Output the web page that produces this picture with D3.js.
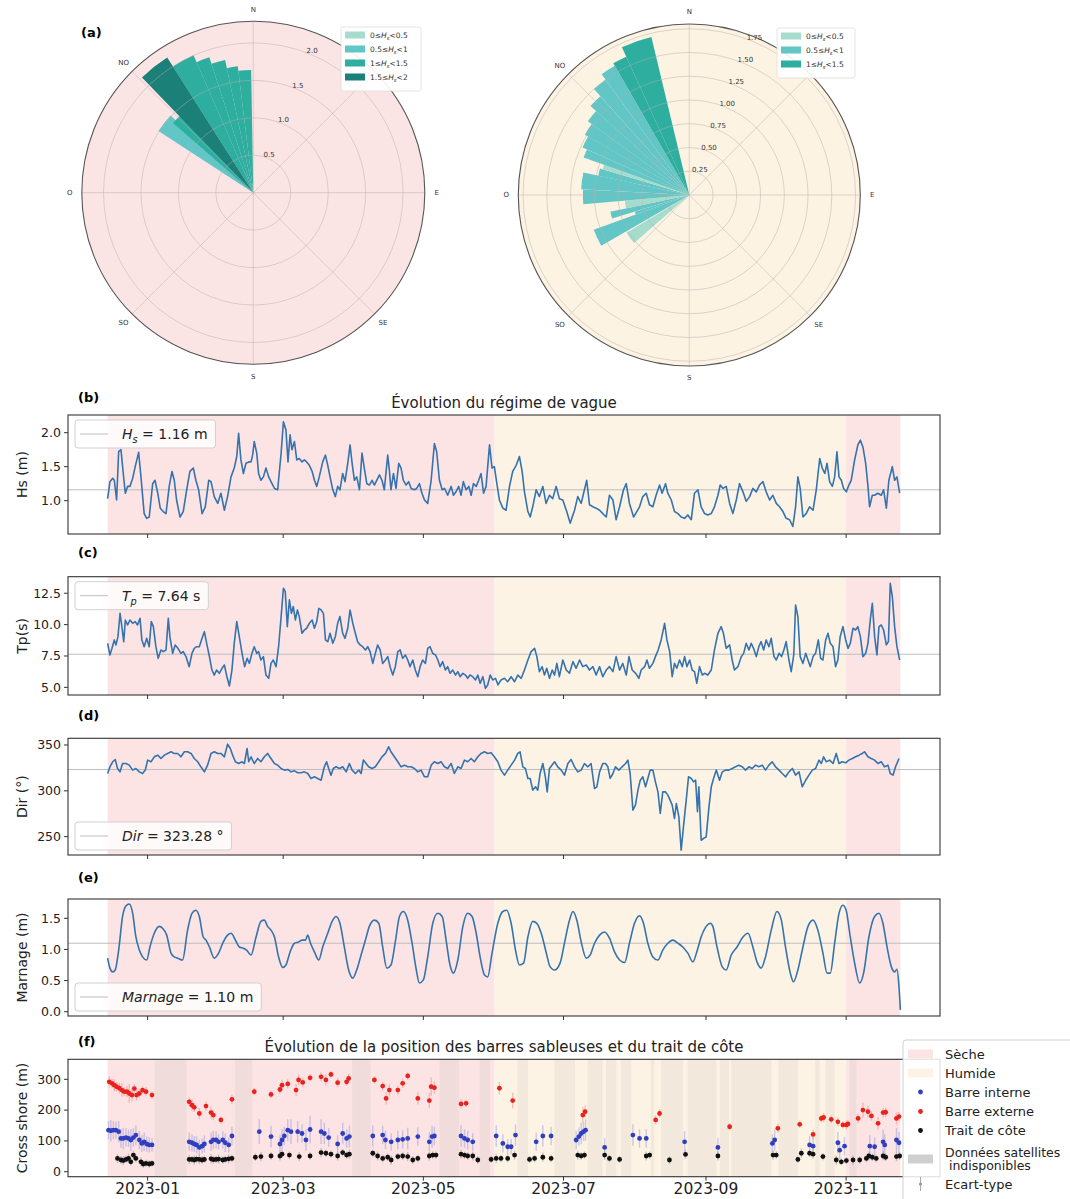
<!DOCTYPE html>
<html><head><meta charset="utf-8">
<script src="https://cdn.jsdelivr.net/npm/d3@7/dist/d3.min.js"></script>
<style>body{margin:0;background:#fff;} svg text{font-family:"DejaVu Sans",sans-serif;}</style>
</head><body>
<svg id="c" width="1070" height="1199"></svg>
<script>
// ================= DATA =================
// Wind-rose wedges: [startDeg, endDeg, value, classIndex]
const hsClasses = [["0≤","0.5"],["0.5≤","1"],["1≤","1.5"],["1.5≤","2"]];
const roseDryRings = [0.5,1.0,1.5,2.0];
const roseDryMax = 2.29;
const roseDry = [
 [303,313,1.51,1],[311,317,1.42,2],[353,359,1.64,2],[348,353,1.70,2],[342,348,1.81,2],
 [336.5,342,1.90,2],[327.5,336.5,2.00,2],[316,327.5,2.14,3]
];
const roseWetRings = [0.25,0.5,0.75,1.0,1.25,1.5,1.75];
const roseWetMax = 1.80;
const roseWet = [
 [229,239,0.77,0],[240,250,1.07,1],[250,253,0.60,1],[253,258,0.85,1],[258,265,0.68,0],
 [265,273,1.12,1],[273,282,1.14,1],[282,286.5,0.98,1],[286.5,289.5,0.95,0],[289.5,294,1.18,1],
 [294,300,1.23,1],[300,306,1.27,1],[306,312,1.32,1],[312,318,1.40,1],[318,324,1.50,1],
 [324,330,1.57,1],[330,335.5,1.60,2],[335.5,346.5,1.71,2]
];
// compass labels and their bearings (NE is hidden under the legend in the original)
const compassLabels = ["N","E","SE","S","SO","O","NO"];
const compassDeg = [0,90,135,180,225,270,315];

// Seasons (day offsets from 2023-01-01)
const seasonStart = [-17.4, 151, 304];
const seasonEnd   = [151, 304, 327.6];
const seasonType  = ["Sèche","Humide","Sèche"];

// Time series: [day offset from 2023-01-01, value]
const hsMean = 1.16, tpMean = 7.64, dirMean = 323.28, marMean = 1.10;
const hsData = [[-17.4,1.03],[-16.4,1.28],[-15.2,1.33],[-14.5,1.30],[-13.5,1.01],[-12.6,1.72],[-11.6,1.75],[-10.6,1.40],[-9.7,1.11],[-8.7,1.21],[-7.7,1.21],[-6.5,1.33],[-5.4,1.50],[-3.9,1.71],[-2.9,1.35],[-1.5,0.81],[-0.4,0.74],[0.7,0.76],[2.2,1.25],[3.2,1.30],[4.4,1.11],[5.5,0.89],[6.8,0.84],[8.0,0.81],[9.4,1.21],[10.6,1.43],[11.6,1.30],[12.6,1.01],[14.1,0.76],[15.5,0.84],[17.0,1.16],[18.4,1.43],[19.9,1.48],[21.0,1.30],[22.2,1.16],[23.7,0.81],[25.1,0.91],[26.6,1.30],[27.6,1.28],[29.0,1.06],[30.5,0.96],[31.9,1.11],[33.4,0.86],[34.8,1.06],[36.3,1.35],[37.7,1.48],[38.8,1.65],[39.6,1.99],[40.6,1.60],[41.7,1.40],[42.8,1.55],[44.0,1.57],[45.0,1.57],[45.7,1.67],[46.4,1.87],[47.5,1.70],[48.3,1.40],[49.3,1.30],[50.4,1.35],[51.5,1.48],[52.7,1.35],[53.7,1.28],[55.2,1.18],[56.6,1.16],[58.1,1.70],[59.1,2.16],[60.2,2.04],[61.1,1.57],[62.0,1.97],[62.8,1.75],[63.9,1.87],[64.9,1.60],[66.0,1.62],[67.2,1.57],[68.2,1.60],[69.2,1.57],[70.4,1.52],[71.6,1.43],[72.6,1.30],[73.6,1.21],[74.7,1.35],[76.2,1.57],[77.4,1.67],[78.4,1.52],[79.4,1.35],[80.6,1.16],[81.7,1.06],[82.7,1.21],[83.7,1.16],[84.9,1.40],[85.9,1.28],[87.1,1.55],[88.1,1.82],[89.0,1.55],[90.0,1.30],[91.0,1.35],[92.2,1.16],[93.3,1.70],[94.3,1.48],[95.4,1.25],[96.5,1.23],[97.7,1.30],[98.7,1.23],[99.7,1.30],[100.9,1.38],[102.0,1.30],[103.0,1.16],[104.5,1.67],[105.2,1.45],[105.9,1.16],[107.0,1.40],[108.1,1.18],[109.3,1.55],[110.3,1.48],[111.3,1.30],[112.5,1.23],[113.6,1.28],[114.7,1.18],[116.1,1.16],[117.1,1.18],[118.3,1.25],[119.4,1.11],[120.5,1.01],[121.9,0.96],[123.4,1.30],[124.8,1.84],[125.8,1.72],[127.0,1.30],[128.2,1.16],[129.2,1.18],[130.6,1.08],[132.1,1.21],[133.1,1.08],[134.2,1.13],[135.4,1.21],[136.4,1.08],[137.4,1.28],[138.6,1.16],[139.8,1.21],[140.8,1.08],[141.8,1.25],[143.0,1.21],[144.1,1.30],[145.1,1.40],[146.2,1.11],[147.3,1.21],[148.8,1.82],[149.9,1.48],[150.9,1.50],[152.0,1.25],[153.1,1.01],[154.6,0.89],[156.0,0.86],[157.5,1.21],[158.9,1.43],[160.4,1.52],[161.8,1.65],[163.0,1.43],[164.0,1.13],[165.5,0.84],[166.5,0.76],[167.6,0.91],[169.1,1.16],[170.5,1.06],[172.0,1.21],[173.4,0.96],[174.9,1.08],[176.3,1.03],[177.8,1.21],[179.2,1.03],
[180.7,1.01],[182.4,0.84],[183.9,0.67],[185.8,0.86],[187.2,1.06],[188.7,0.96],[190.1,1.16],[191.1,1.30],[192.3,0.94],[193.8,0.91],[195.2,0.89],[196.7,0.86],[198.1,0.81],[199.6,0.76],[201.0,1.08],[202.5,1.01],[203.9,0.72],[205.4,0.91],[207.1,1.16],[208.3,1.25],[209.7,0.96],[211.5,0.76],[212.9,0.84],[214.1,0.91],[215.5,1.06],[217.0,1.11],[218.4,0.94],[219.9,0.91],[221.3,1.08],[222.8,1.23],[223.9,1.11],[225.4,1.25],[226.4,1.11],[227.9,1.01],[229.3,0.84],[230.8,0.81],[232.2,0.76],[233.7,0.74],[235.1,0.79],[236.6,0.72],[238.0,1.11],[239.5,1.16],[240.9,0.91],[242.4,0.81],[243.8,0.79],[245.3,0.81],[246.7,0.91],[248.2,1.08],[249.2,1.23],[250.4,1.18],[251.8,1.21],[253.3,0.96],[254.7,0.81],[256.2,1.01],[257.6,1.25],[259.1,1.13],[260.5,0.99],[262.0,1.06],[263.4,1.18],[264.9,1.13],[266.3,1.23],[267.8,1.28],[269.2,1.13],[270.7,1.01],[272.1,1.08],[273.6,0.96],[275.0,0.91],[276.5,0.84],[277.9,0.74],[279.4,0.72],[280.8,0.62],[282.0,0.91],[283.0,1.35],[284.0,1.18],[285.2,0.76],[286.6,0.81],[288.1,0.91],[289.6,0.86],[291.0,1.16],[292.5,1.62],[293.6,1.48],[294.7,1.40],[295.7,1.55],[296.8,1.28],[298.0,1.21],[299.0,1.35],[300.0,1.72],[300.9,1.35],[301.9,1.30],[302.9,1.18],[304.1,1.13],[305.2,1.23],[306.2,1.30],[307.7,1.60],[309.1,1.82],[310.2,1.89],[311.3,1.79],[312.5,1.55],[313.5,1.21],[314.2,0.91],[315.4,1.08],[316.4,1.08],[317.8,1.11],[319.3,1.08],[320.3,1.16],[321.5,0.89],[322.6,1.30],[324.1,1.50],[325.1,1.30],[326.1,1.35],[327.3,1.11]];

const tpData = [[-17.4,8.51],[-16.4,7.58],[-15.5,8.11],[-14.5,8.78],[-13.8,8.38],[-12.9,9.04],[-12.0,10.9],[-11.2,9.84],[-10.4,8.64],[-9.7,10.37],[-8.7,9.97],[-7.7,10.37],[-6.5,10.1],[-5.4,10.24],[-4.4,9.97],[-3.3,10.5],[-2.5,8.78],[-1.5,8.24],[-0.4,8.91],[0.7,8.24],[1.6,10.24],[2.5,9.84],[3.6,8.24],[4.6,7.31],[5.8,7.98],[6.8,7.85],[8.0,7.98],[9.0,10.5],[9.7,9.04],[10.9,7.71],[12.0,8.38],[13.2,8.11],[14.5,7.71],[15.5,7.85],[16.7,7.45],[18.1,6.65],[19.3,7.71],[20.3,8.11],[21.3,8.24],[22.5,8.24],[23.7,8.91],[24.7,9.44],[25.7,8.51],[26.9,7.45],[28.0,6.38],[29.0,5.98],[30.0,6.38],[31.2,6.12],[32.4,6.52],[33.4,6.78],[34.5,5.85],[35.6,5.11],[36.7,6.38],[37.7,8.51],[38.8,10.24],[39.9,9.04],[41.1,7.71],[42.2,6.65],[43.3,7.31],[44.3,6.91],[45.4,7.71],[46.4,8.24],[47.5,7.71],[48.3,7.85],[49.3,7.18],[50.4,7.45],[51.5,5.98],[52.7,5.72],[53.7,6.91],[54.7,7.18],[55.9,6.65],[57.0,8.24],[58.1,10.64],[59.1,12.9],[59.9,12.63],[60.8,9.84],[61.7,11.97],[62.6,10.9],[63.4,11.44],[64.3,10.37],[65.2,11.17],[66.0,10.64],[67.2,9.31],[68.2,9.57],[69.2,9.71],[70.4,10.1],[71.6,10.37],[72.6,9.71],[73.6,10.24],[74.5,11.3],[75.5,11.17],[76.5,10.9],[77.4,8.78],[78.4,8.64],[79.4,9.31],[80.6,8.51],[81.7,9.04],[82.7,10.1],[83.7,10.64],[84.9,9.31],[85.9,8.91],[87.1,9.71],[88.1,11.17],[89.3,10.1],[90.4,9.31],[91.4,8.64],[92.5,8.38],[93.6,8.24],[94.8,7.98],[95.8,8.24],[96.8,7.85],[98.0,6.91],[99.1,7.71],[100.1,8.38],[101.2,7.98],[102.3,6.91],[103.5,7.18],[104.5,7.45],[105.5,6.65],[106.7,5.98],[107.8,6.65],[108.9,7.85],[109.9,7.98],[111.0,7.31],[112.2,7.58],[113.2,7.18],[114.2,6.65],[115.4,7.18],[116.5,6.38],[117.6,5.85],[118.6,6.65],[119.7,7.18],[120.9,6.91],[121.9,8.11],[122.9,8.24],[124.1,7.71],[125.3,7.58],[126.3,7.18],[127.3,6.65],[128.4,7.05],[129.6,6.38],[130.6,6.65],[131.6,6.12],[132.8,6.38],[134.0,5.98],[135.0,6.25],[136.0,5.85],[137.2,6.12],[138.3,5.98],[139.3,5.72],[140.3,5.98],[141.5,5.85],[142.7,5.59],[143.7,5.98],[144.7,5.32],[145.9,5.85],[147.0,4.92],[148.0,5.19],[149.1,5.98],[150.2,5.59],[151.4,5.72],[152.5,5.19],[153.8,5.59],[155.3,5.72],[156.7,5.45],[158.2,5.85],[159.7,5.45],[161.1,5.98],[162.6,5.72],[164.0,6.38],[165.5,7.18],[166.9,7.85],[168.4,8.11],[169.4,7.45],[170.5,6.25],[171.7,6.65],[172.7,5.98],[173.7,6.52],[174.9,5.72],[176.1,6.38],[177.1,5.98],[178.1,6.91],[179.2,5.85],
[180.7,7.18],[182.2,6.38],[183.6,6.12],[185.1,7.05],[186.5,6.52],[188.0,7.18],[189.4,6.65],[190.9,6.78],[192.3,6.38],[193.8,6.65],[195.2,5.98],[196.7,6.65],[198.1,5.85],[199.6,6.38],[201.0,6.65],[202.5,6.25],[203.9,7.45],[205.4,6.38],[206.8,6.91],[208.3,5.98],[209.5,7.45],[210.9,6.38],[212.4,6.12],[213.8,5.72],[214.8,6.38],[216.3,6.65],[217.3,7.18],[218.4,6.52],[219.9,6.91],[221.0,7.45],[222.2,7.98],[223.5,8.78],[225.0,10.1],[226.0,8.78],[227.2,7.85],[228.3,5.85],[229.3,6.91],[230.3,6.52],[231.5,7.18],[232.7,6.65],[233.7,7.45],[234.7,6.65],[235.9,7.18],[237.0,6.38],[238.0,6.25],[239.0,5.32],[240.2,6.65],[241.4,5.98],[242.4,6.12],[243.8,5.98],[245.3,6.38],[246.7,7.98],[248.2,9.31],[249.6,9.84],[250.6,9.31],[251.8,8.11],[253.3,8.38],[254.4,7.18],[255.4,6.38],[256.9,6.65],[258.4,7.45],[259.4,7.71],[260.5,8.51],[261.7,7.98],[262.7,8.51],[263.7,8.11],[264.9,7.45],[266.0,8.24],[267.0,8.64],[268.1,7.98],[269.2,8.78],[270.4,8.24],[271.4,8.91],[272.6,7.45],[273.6,7.18],[274.8,7.71],[275.9,7.45],[276.9,7.98],[277.9,8.64],[279.1,7.18],[280.1,6.25],[281.2,7.58],[282.0,11.57],[283.0,10.64],[284.0,7.45],[285.2,6.91],[286.4,7.71],[287.4,7.18],[288.4,6.65],[289.6,7.45],[290.7,7.71],[291.9,8.78],[292.9,7.31],[293.9,7.18],[295.1,8.78],[296.1,9.31],[297.1,8.51],[298.3,8.24],[299.4,6.65],[300.4,7.18],[301.4,9.04],[302.6,9.84],[303.8,8.78],[304.8,8.11],[305.8,8.51],[307.0,9.71],[308.1,9.57],[309.1,9.84],[310.2,9.04],[311.3,7.45],[312.5,7.71],[313.5,8.51],[314.5,10.37],[315.4,11.70],[316.4,9.04],[317.4,7.58],[318.3,9.84],[319.3,9.97],[320.3,9.57],[321.5,8.38],[322.4,8.64],[323.2,13.3],[324.1,12.23],[325.1,9.84],[326.1,8.24],[327.3,7.18]];

const dirData = [[-17.4,318.9],[-16.4,326.2],[-15.2,331.7],[-14.1,334.2],[-13.1,324.4],[-12.0,320.7],[-10.9,329.8],[-9.4,329.8],[-8.0,328.0],[-6.5,322.6],[-5.1,324.4],[-3.6,320.7],[-2.2,318.9],[-1.0,322.6],[0,333.5],[1.5,331.7],[2.9,337.1],[4.4,338.9],[5.8,335.3],[7.3,338.9],[8.7,340.8],[10.2,342.6],[11.6,340.8],[13.1,340.8],[14.5,337.1],[16.0,342.6],[17.4,342.6],[18.9,340.8],[20.3,335.3],[21.8,331.7],[23.2,326.2],[24.7,320.7],[26.1,328.0],[27.6,340.8],[29.0,342.6],[30.5,340.8],[31.9,340.8],[33.4,337.1],[34.8,350.9],[36.0,346.2],[37.0,338.9],[38.2,331.7],[39.6,329.8],[41.1,331.7],[42.1,329.8],[43.3,346.2],[44.0,331.7],[45.0,337.1],[46.4,329.8],[47.9,335.3],[49.3,331.7],[50.8,337.1],[52.2,340.8],[53.7,335.3],[55.2,329.8],[56.6,328.0],[58.1,324.4],[59.5,322.6],[61.0,323.3],[62.4,320.7],[63.9,321.8],[65.3,319.7],[66.8,319.7],[68.2,320.7],[69.7,318.9],[71.1,313.5],[72.6,315.3],[74.0,313.5],[75.5,311.6],[76.9,326.2],[77.9,331.7],[78.8,324.4],[79.8,317.1],[80.8,324.4],[82.0,326.2],[83.5,324.4],[84.9,326.2],[86.4,320.7],[87.8,329.8],[89.0,322.6],[90.4,318.9],[91.9,322.6],[92.9,318.9],[93.9,333.5],[95.1,329.8],[96.2,326.2],[97.7,324.4],[99.1,326.2],[100.6,331.7],[102.0,337.1],[103.5,340.8],[104.9,348.0],[105.9,342.6],[107.4,337.1],[108.9,331.7],[110.3,326.2],[111.8,328.0],[113.2,326.2],[114.7,326.2],[116.1,324.4],[117.6,320.7],[119.0,322.6],[120.5,315.3],[121.9,315.3],[123.4,328.0],[124.8,331.7],[126.3,329.8],[127.7,331.7],[129.2,326.2],[130.6,324.4],[132.1,329.8],[133.5,318.9],[135.0,326.2],[136.4,324.4],[137.9,333.5],[139.3,331.7],[140.8,335.3],[142.2,331.7],[143.7,337.1],[145.1,340.8],[146.6,342.6],[148.0,340.8],[149.5,341.5],[150.9,337.1],[152.4,331.7],[153.8,322.6],[155.3,317.1],[156.7,322.6],[158.2,328.0],[159.7,333.5],[161.1,340.8],[162.1,342.6],[163.3,326.2],[164.4,324.4],[165.5,313.5],[166.5,313.5],[167.6,300.7],[168.8,304.4],[169.8,300.7],[170.8,318.9],[172.0,329.8],[173.1,315.3],[173.9,298.9],
[174.9,324.4],[177.1,331.7],[178.5,326.2],[180.0,322.6],[181.4,317.1],[182.9,329.8],[184.3,334.2],[185.8,326.2],[187.2,320.7],[188.7,322.6],[190.1,329.8],[191.6,326.2],[193.0,329.8],[194.5,302.5],[195.5,304.4],[196.7,320.7],[198.1,329.8],[199.3,329.8],[200.3,326.2],[201.3,313.5],[202.5,318.9],[203.6,326.2],[205.1,322.6],[206.5,326.2],[208.0,329.8],[209.0,333.5],[210.0,318.9],[211.2,278.9],[212.3,284.4],[213.4,300.7],[214.4,311.6],[215.5,315.3],[216.7,304.4],[217.7,313.5],[218.7,322.6],[219.9,322.6],[221.0,309.8],[222.1,298.9],[223.1,275.3],[224.2,298.9],[225.4,298.9],[226.4,295.3],[227.4,289.8],[228.3,284.4],[229.3,269.8],[230.1,286.2],[231.2,271.6],[232.2,235.2],[233.2,260.7],[234.4,289.8],[235.4,315.3],[236.6,313.5],[237.6,309.8],[238.5,311.6],[239.3,277.1],[239.9,304.4],[240.9,246.1],[241.9,248.0],[243.1,249.8],[244.3,282.5],[245.3,304.4],[246.3,313.5],[247.5,322.6],[248.9,311.6],[250.1,320.7],[251.5,322.6],[253.0,322.6],[254.4,324.4],[255.9,326.2],[257.3,328.0],[258.8,326.2],[260.2,322.6],[261.7,326.2],[263.1,324.4],[264.6,328.0],[266.0,326.2],[267.5,328.0],[268.9,322.6],[270.4,328.0],[271.8,331.7],[273.3,326.2],[274.8,322.6],[276.2,318.9],[277.7,315.3],[279.1,320.7],[280.6,324.4],[282.0,317.1],[283.5,320.7],[284.9,304.4],[286.4,311.6],[287.8,317.1],[289.3,322.6],[290.7,324.4],[292.2,333.5],[293.2,329.8],[294.2,337.1],[295.4,331.7],[296.8,333.5],[298.3,329.8],[299.7,340.8],[300.9,329.8],[302.3,331.7],[303.8,330.6],[305.2,333.5],[306.7,335.3],[308.1,337.1],[309.6,338.9],[311.0,340.8],[312.0,342.6],[313.5,337.1],[314.9,335.3],[316.4,333.5],[317.8,329.8],[319.3,331.7],[320.7,326.2],[322.2,328.0],[323.2,318.9],[324.4,317.1],[325.5,326.2],[327.0,335.3]];

const marData = [[-17.4,0.86],[-16.4,0.70],[-15.2,0.64],[-14.1,0.67],[-12.6,0.99],[-10.9,1.53],[-9.4,1.70],[-8.0,1.73],[-6.5,1.58],[-5.1,1.20],[-3.6,0.99],[-2.2,0.88],[-0.4,0.83],[1.0,1.04],[2.9,1.26],[5.1,1.37],[6.5,1.34],[8.3,1.23],[10.2,0.94],[11.6,0.88],[13.1,0.86],[15.2,0.83],[17.4,1.31],[19.3,1.58],[21.0,1.63],[22.5,1.53],[24.2,1.20],[25.4,1.15],[26.9,1.04],[29.0,0.86],[30.9,0.94],[32.7,1.10],[34.8,1.23],[36.3,1.26],[38.2,1.15],[39.9,1.04],[41.7,1.02],[43.1,0.99],[45.0,0.91],[47.2,1.20],[49.3,1.45],[50.8,1.47],[52.2,1.37],[53.7,1.31],[55.2,1.20],[57.0,0.88],[58.8,0.71],[60.2,0.75],[62.0,0.96],[63.9,1.10],[65.7,1.12],[67.2,1.15],[68.7,1.15],[69.7,1.23],[70.7,1.12],[72.6,0.96],[74.5,0.83],[76.2,1.04],[78.4,1.26],[80.3,1.45],[82.0,1.53],[83.7,1.42],[85.6,1.04],[87.5,0.67],[89.3,0.54],[91.0,0.67],[92.9,0.91],[94.8,1.15],[96.5,1.37],[98.7,1.47],[100.6,1.42],[102.3,1.04],[104.1,0.70],[105.9,0.75],[107.8,1.12],[109.6,1.53],[111.3,1.61],[113.2,1.47],[115.1,1.10],[116.8,0.70],[118.3,0.46],[120.0,0.51],[121.9,0.88],[124.1,1.42],[126.3,1.58],[128.2,1.53],[129.9,1.15],[131.6,0.75],[133.1,0.62],[135.0,0.83],[137.2,1.37],[139.3,1.58],[141.2,1.53],[143.0,1.26],[144.7,0.88],[146.6,0.59],[148.0,0.56],[149.9,0.94],[152.4,1.42],[154.6,1.61],[156.3,1.63],[158.2,1.42],[160.1,0.99],[161.8,0.75],[163.6,0.78],[165.5,1.20],[167.6,1.45],[169.4,1.42],[171.3,1.26],[173.4,0.96],[175.2,0.72],[177.1,0.67],
[179.5,0.78],[181.4,1.10],[183.6,1.47],[185.1,1.61],[186.8,1.47],[188.7,1.12],[190.9,0.86],[192.6,0.91],[194.5,1.10],[196.7,1.23],[198.9,1.28],[201.0,1.18],[203.2,0.96],[205.4,0.83],[207.6,0.79],[209.7,1.10],[211.9,1.42],[214.1,1.54],[215.8,1.42],[217.7,1.10],[219.9,0.88],[222.1,0.83],[224.2,0.99],[226.4,1.10],[228.6,1.15],[230.8,1.10],[232.9,1.04],[235.1,0.94],[237.3,0.80],[239.0,0.96],[240.9,1.20],[243.1,1.37],[244.9,1.42],[246.0,1.37],[247.8,1.04],[250.1,0.72],[251.8,0.67],[254.0,0.91],[256.5,1.04],[259.1,1.20],[261.3,1.26],[263.4,1.04],[265.2,0.80],[267.0,0.70],[268.9,0.88],[271.4,1.31],[273.9,1.61],[275.8,1.47],[277.6,1.04],[279.7,0.62],[281.1,0.48],[283.0,0.67],[285.2,1.04],[287.4,1.37],[289.6,1.47],[291.7,1.31],[293.9,0.94],[295.7,0.62],[297.1,0.62],[299.0,1.10],[300.9,1.58],[302.6,1.71],[304.0,1.63],[305.8,1.20],[307.7,0.78],[309.9,0.46],[311.6,0.62],[313.9,1.20],[316.4,1.53],[318.3,1.58],[320.0,1.42],[321.8,1.04],[323.7,0.72],[325.1,0.64],[326.1,0.68],[327.0,0.40],[327.6,0.03]];

// Panel (f): [day, cross-shore value (m), std]
const barreExterne = [[-16.7,292,18],[-15.5,287,15],[-14.5,281,20],[-13.5,276,15],[-12.3,271,18],[-11.2,265,22],[-10.2,260,15],[-9.0,260,18],[-8.0,254,30],[-6.8,249,20],[-5.8,270,15],[-4.8,249,18],[-3.6,254,15],[-2.2,265,12],[-0.7,260,15],[1.9,249,12],[18.1,227,15],[19.3,216,20],[20.3,209,15],[22.5,189,18],[25.4,213,15],[27.6,192,20],[28.6,184,15],[31.9,168,12],[36.7,235,15],[46.4,260,12],[53.7,251,12],[57.6,267,15],[58.5,281,18],[61.0,285,15],[64.6,265,20],[65.7,298,18],[67.5,290,15],[70.7,305,12],[75.5,308,15],[77.6,298,18],[79.8,316,12],[82.7,289,15],[86.6,292,12],[87.5,303,15],[98.7,298,12],[102.3,278,15],[103.8,238,20],[105.2,265,18],[108.9,265,15],[111.0,287,15],[113.2,311,12],[117.6,238,20],[122.6,231,25],[123.4,276,30],[124.8,273,20],[136.4,220,15],[138.6,222,12],[153.1,271,20],[158.9,231,25],[189.4,184,25],[190.4,195,20],[221.1,168,15],[222.8,189,15],[253.3,146,12],[274.3,141,15],[283.8,154,12],[289.6,121,15],[293.2,173,12],[294.2,176,15],[297.5,170,12],[300.4,162,15],[302.6,152,12],[304.1,152,15],[304.8,155,12],[309.2,173,15],[311.3,200,25],[313.5,195,20],[315.0,181,15],[317.9,157,20],[320.1,192,15],[321.2,193,15],[325.9,173,20],[327.0,179,15]];
const barreInterne = [[-17.0,135,30],[-16.0,133,35],[-14.9,135,30],[-13.8,135,28],[-12.6,130,35],[-11.6,108,30],[-10.6,108,35],[-9.4,111,30],[-8.3,108,28],[-7.3,103,35],[-6.2,111,30],[-5.1,119,32],[-3.6,103,30],[-2.5,92,28],[-1.5,97,30],[-0.4,90,25],[0.7,87,25],[1.9,87,22],[18.1,97,30],[19.3,94,28],[20.3,90,25],[21.3,87,28],[22.5,79,25],[23.7,83,25],[24.7,90,28],[27.6,97,30],[28.6,103,30],[29.8,103,28],[30.9,97,25],[32.7,103,28],[33.8,94,30],[35.3,87,25],[36.7,116,30],[48.6,130,40],[53.7,114,35],[57.6,90,30],[58.5,103,35],[59.5,116,30],[61.0,135,35],[62.4,130,40],[65.3,130,35],[67.2,124,30],[68.9,103,35],[70.7,137,45],[75.5,130,40],[76.9,124,35],[78.8,111,30],[82.7,90,28],[84.9,124,35],[86.6,108,30],[87.8,114,35],[98.0,116,35],[102.3,119,30],[103.5,103,30],[106.0,97,28],[108.9,103,30],[111.0,105,30],[113.2,108,35],[117.6,114,30],[122.6,97,30],[123.8,114,35],[124.8,116,30],[136.4,116,35],[137.9,108,30],[139.3,103,30],[141.5,97,28],[151.7,116,35],[154.6,92,30],[156.7,81,25],[158.2,81,25],[160.1,119,35],[169.1,97,30],[172.0,116,35],[175.6,116,30],[186.5,103,30],[187.7,114,30],[188.7,124,35],[189.7,130,30],[190.6,135,35],[198.9,79,30],[211.2,119,35],[214.1,108,30],[217.0,108,30],[233.7,97,35],[248.2,79,30],[271.9,92,30],[272.9,103,35],[288.1,87,30],[289.6,83,30],[300.4,94,35],[301.2,70,30],[303.3,83,30],[314.3,83,35],[316.4,81,30],[320.1,97,40],[320.8,87,35],[325.9,103,40],[327.0,94,35]];
const traitCote = [[-13.1,43,15],[-11.6,38,12],[-10.6,36,15],[-9.4,40,12],[-8.3,43,15],[-7.3,32,12],[-6.2,54,15],[-5.1,43,12],[-2.9,32,15],[-1.9,25,12],[-0.7,27,12],[0.7,25,12],[1.9,27,10],[18.1,40,15],[19.3,40,12],[20.3,38,15],[21.3,41,12],[22.5,40,15],[23.7,38,12],[24.7,40,12],[27.6,42,15],[28.6,39,12],[29.8,40,12],[30.9,41,15],[32.7,38,12],[33.8,40,12],[35.3,42,15],[36.7,43,12],[46.9,47,12],[49.3,49,15],[53.7,51,12],[57.6,51,15],[58.5,57,12],[61.7,54,12],[66.0,49,15],[70.7,51,12],[75.5,62,15],[77.6,60,12],[79.8,57,12],[82.7,51,15],[84.9,62,12],[86.6,54,12],[87.8,57,15],[98.0,60,12],[100.1,51,15],[102.3,43,12],[104.5,47,12],[106.0,38,15],[108.9,49,12],[111.0,51,12],[113.2,49,15],[115.4,38,12],[117.6,43,12],[122.6,51,15],[124.1,54,12],[125.5,54,12],[136.4,57,15],[137.9,54,12],[139.3,51,12],[141.5,51,15],[143.7,38,12],[149.5,40,12],[151.7,43,15],[153.8,43,12],[156.7,43,12],[159.7,54,15],[166.2,40,12],[168.4,43,12],[172.0,47,15],[175.6,43,12],[187.2,54,15],[188.7,51,12],[190.1,54,12],[198.9,54,15],[201.0,43,12],[205.4,40,12],[217.0,51,15],[218.5,54,12],[227.1,38,12],[234.1,56,15],[248.2,51,15],[272.2,54,15],[273.6,54,12],[283.0,40,12],[284.5,60,15],[288.1,60,12],[289.6,57,15],[293.9,49,12],[299.7,38,15],[301.9,32,12],[304.1,36,12],[307.0,38,15],[309.9,38,12],[312.8,43,12],[313.9,51,15],[315.4,47,12],[317.1,43,12],[320.1,51,15],[321.2,47,12],[325.9,49,15],[327.3,51,12]];
// Periods with no satellite data: [startDay, endDay]
const satGaps = [[3,17],[38,45.5],[89,97],[127,135.5],[144.5,149],[161,165.5],[177,186],[191.5,198],[199.5,204],[206,210.5],[219,220.5],[223.5,233],[235,247.5],[249,253],[254,271.5],[274.5,283],[290.5,292.5],[295,299],[305.5,308.5]];

// ================= DRAW =================
const svg = d3.select("#c");
const COL = {seche:'#fce4e4', humide:'#fdf3e4', line:'#3573ae', mean:'#bdbdbd', frame:'#333',
  cls:['#a6dccd','#62c5c6','#2eae9f','#1b8078'], blue:'#2f3fbf', red:'#e8231d', black:'#111', gap:'#b0b0b0'};
const DAY = 86400000, T0 = Date.UTC(2023,0,1);
const toDate = d => new Date(T0 + d*DAY);
const x = d3.scaleUtc().domain([toDate(-34.65), toDate(344.85)]).range([68, 940]);
const xL = 68, xR = 940;

function rich(t, parts, fs){
  parts.forEach(p=>{
    const ts = t.append('tspan').text(p[0]);
    if (p[1]==='i') ts.attr('font-style','italic');
    if (p[1]==='sub') ts.attr('font-style','italic').attr('font-size',fs*0.7).attr('dy',fs*0.28);
    if (p[1]==='back') ts.attr('dy',-fs*0.28);
  });
}

// ---------- ROSES ----------
function drawRose(cx, cy, R, rmax, rings, fmt, bg, wedges, nCls, leg){
  const g = svg.append('g').attr('transform',`translate(${cx},${cy})`);
  const r = d3.scaleLinear().domain([0,rmax]).range([0,R]);
  g.append('circle').attr('r',R).attr('fill',bg);
  const arc = d3.arc();
  wedges.forEach(w=>{
    g.append('path').attr('d',arc({innerRadius:0,outerRadius:r(w[2]),startAngle:w[0]*Math.PI/180,endAngle:w[1]*Math.PI/180}))
      .attr('fill',COL.cls[w[3]]);
  });
  rings.forEach(v=> g.append('circle').attr('r',r(v)).attr('fill','none').attr('stroke','#b5aeae').attr('stroke-opacity',0.6).attr('stroke-width',0.8));
  d3.range(0,360,45).forEach(a=>{
    const t=a*Math.PI/180;
    g.append('line').attr('x1',0).attr('y1',0).attr('x2',R*Math.sin(t)).attr('y2',-R*Math.cos(t))
      .attr('stroke','#b5aeae').attr('stroke-opacity',0.6).attr('stroke-width',0.8);
  });
  g.append('circle').attr('r',R).attr('fill','none').attr('stroke','#555').attr('stroke-width',1.1);
  const ta = 22.5*Math.PI/180;
  rings.forEach(v=>{
    const rr = r(v)+4;
    g.append('text').attr('x',rr*Math.sin(ta)).attr('y',-rr*Math.cos(ta)).attr('dy','0.35em')
      .attr('text-anchor','middle').attr('font-size',7).attr('fill','#333').text(fmt(v));
  });
  compassLabels.forEach((lab,i)=>{
    const t=compassDeg[i]*Math.PI/180, rr=R+12;
    g.append('text').attr('x',rr*Math.sin(t)).attr('y',-rr*Math.cos(t)).attr('dy','0.35em')
      .attr('text-anchor','middle').attr('font-size',7).attr('fill','#333').text(lab);
  });
  const lg = svg.append('g');
  const h = 8 + nCls*14;
  lg.append('rect').attr('x',leg[0]).attr('y',leg[1]).attr('width',leg[2]).attr('height',h).attr('rx',2)
    .attr('fill','#fff').attr('fill-opacity',0.9).attr('stroke','#ddd').attr('stroke-width',0.8);
  for(let i=0;i<nCls;i++){
    const yy = leg[1]+8+i*14;
    lg.append('rect').attr('x',leg[0]+4).attr('y',yy-3.5).attr('width',20).attr('height',7).attr('fill',COL.cls[i]);
    const t = lg.append('text').attr('x',leg[0]+29).attr('y',yy).attr('dy','0.35em').attr('font-size',7.5).attr('fill','#333');
    rich(t, [[hsClasses[i][0]],['H','i'],['s','sub'],['<'+hsClasses[i][1],'back']], 7.5);
  }
}
drawRose(253.3,192.7,171.5,roseDryMax,roseDryRings,d3.format('.1f'),'#fbe4e4',roseDry,4,[341,27,80]);
drawRose(689.3,195,171,roseWetMax,roseWetRings,d3.format('.2f'),'#fdf3e3',roseWet,3,[777,28,78]);
svg.append('text').attr('x',81).attr('y',37).attr('font-family','"Liberation Serif", serif').attr('font-weight','bold').attr('font-size',13).text('(a)');

// ---------- TIME PANELS ----------
function seasonBg(g, yT, yB){
  seasonStart.forEach((s,i)=>{
    g.append('rect').attr('x',x(toDate(s))).attr('y',yT).attr('width',x(toDate(seasonEnd[i]))-x(toDate(s))).attr('height',yB-yT)
      .attr('fill', seasonType[i]==='Sèche'?COL.seche:COL.humide);
  });
}
function frameAxes(g, y, yT, yB, ticks, fmt, ylab, showX){
  g.append('rect').attr('x',xL).attr('y',yT).attr('width',xR-xL).attr('height',yB-yT).attr('fill','none').attr('stroke',COL.frame).attr('stroke-width',1.1);
  ticks.forEach(v=>{
    g.append('line').attr('x1',xL-4).attr('x2',xL).attr('y1',y(v)).attr('y2',y(v)).attr('stroke',COL.frame);
    g.append('text').attr('x',xL-7).attr('y',y(v)).attr('dy','0.35em').attr('text-anchor','end').attr('font-size',12.5).attr('fill','#222').text(fmt(v));
  });
  x.ticks(d3.utcMonth.every(2)).forEach(d=>{
    g.append('line').attr('x1',x(d)).attr('x2',x(d)).attr('y1',yB).attr('y2',yB+4).attr('stroke',COL.frame);
    if(showX) g.append('text').attr('x',x(d)).attr('y',yB+17).attr('text-anchor','middle').attr('font-size',15.5).attr('fill','#222').text(d3.utcFormat('%Y-%m')(d));
  });
  g.append('text').attr('transform',`translate(22,${(yT+yB)/2}) rotate(-90)`).attr('text-anchor','middle').attr('dy','0.35em')
    .attr('font-size',14).attr('fill','#222').text(ylab);
}
const panels = [
 {lab:'(b)', labY:402, top:415, bot:534, dom:[0.51,2.26], ticks:[1.0,1.5,2.0], fmt:d3.format('.1f'), ylab:'Hs (m)', data:hsData, mean:hsMean,
   leg:[['H','i'],['s','sub'],[' = '+d3.format('.2f')(hsMean)+' m','back']], legTop:true, title:'Évolution du régime de vague'},
 {lab:'(c)', labY:557, top:576.7, bot:695, dom:[4.39,13.82], ticks:[5,7.5,10,12.5], fmt:d3.format('.1f'), ylab:'Tp(s)', data:tpData, mean:tpMean,
   leg:[['T','i'],['p','sub'],[' = '+d3.format('.2f')(tpMean)+' s','back']], legTop:true},
 {lab:'(d)', labY:720, top:738.3, bot:855, dom:[230,357.3], ticks:[250,300,350], fmt:d3.format('d'), ylab:'Dir (°)', data:dirData, mean:dirMean,
   leg:[['Dir','i'],[' = '+d3.format('.2f')(dirMean)+' °']], legTop:false},
 {lab:'(e)', labY:882, top:899, bot:1016, dom:[-0.069,1.81], ticks:[0,0.5,1.0,1.5], fmt:d3.format('.1f'), ylab:'Marnage (m)', data:marData, mean:marMean,
   leg:[['Marnage','i'],[' = '+d3.format('.2f')(marMean)+' m']], legTop:false, smooth:true}
];
panels.forEach((p,pi)=>{
  const g = svg.append('g');
  const y = d3.scaleLinear().domain(p.dom).range([p.bot,p.top]);
  const cid = 'clip'+pi;
  svg.append('clipPath').attr('id',cid).append('rect').attr('x',xL).attr('y',p.top).attr('width',xR-xL).attr('height',p.bot-p.top);
  seasonBg(g, p.top, p.bot);
  g.append('line').attr('x1',xL).attr('x2',xR).attr('y1',y(p.mean)).attr('y2',y(p.mean)).attr('stroke',COL.mean).attr('stroke-width',1);
  const ln = d3.line().x(d=>x(toDate(d[0]))).y(d=>y(d[1]));
  if(p.smooth) ln.curve(d3.curveMonotoneX);
  g.append('path').attr('d',ln(p.data)).attr('fill','none').attr('stroke',COL.line).attr('stroke-width',1.6).attr('stroke-linejoin','round').attr('clip-path',`url(#${cid})`);
  frameAxes(g, y, p.top, p.bot, p.ticks, p.fmt, p.ylab, false);
  const lg = svg.append('g');
  const t = lg.append('text').attr('x',122).attr('font-size',14).attr('fill','#222');
  rich(t, p.leg, 14);
  const tw = t.node().getComputedTextLength();
  const h = 28, bx = 75, by = p.legTop ? p.top+5 : p.bot-5-h;
  lg.insert('rect','text').attr('x',bx).attr('y',by).attr('width',122-bx+tw+8).attr('height',h).attr('rx',3)
    .attr('fill','#fff').attr('fill-opacity',0.8).attr('stroke','#d0d0d0');
  lg.insert('line','text').attr('x1',bx+5).attr('x2',bx+33).attr('y1',by+h/2).attr('y2',by+h/2).attr('stroke',COL.mean).attr('stroke-width',1);
  t.attr('y',by+h/2).attr('dy','0.36em');
  svg.append('text').attr('x',78).attr('y',p.labY).attr('font-weight','bold').attr('font-size',13).text(p.lab);
  if(p.title) svg.append('text').attr('x',(xL+xR)/2).attr('y',p.top-7).attr('text-anchor','middle').attr('font-size',15).attr('fill','#222').text(p.title);
});

// ---------- PANEL (f) ----------
(function(){
  const top=1059.3, bot=1176.7;
  const y = d3.scaleLinear().domain([-16.2,365]).range([bot,top]);
  const g = svg.append('g');
  svg.append('clipPath').attr('id','clipf').append('rect').attr('x',xL).attr('y',top).attr('width',xR-xL).attr('height',bot-top);
  seasonBg(g, top, bot);
  satGaps.forEach(s=>{
    g.append('rect').attr('x',x(toDate(s[0]))).attr('y',top).attr('width',x(toDate(s[1]))-x(toDate(s[0]))).attr('height',bot-top)
      .attr('fill',COL.gap).attr('fill-opacity',0.14);
  });
  const pg = g.append('g').attr('clip-path','url(#clipf)');
  const series = [[traitCote,COL.black,'rgba(110,110,110,0.35)'],[barreInterne,COL.blue,'rgba(110,120,220,0.35)'],[barreExterne,COL.red,'rgba(240,110,110,0.4)']];
  series.forEach(s=>{
    pg.selectAll(null).data(s[0]).enter().append('line')
      .attr('x1',d=>x(toDate(d[0]))).attr('x2',d=>x(toDate(d[0]))).attr('y1',d=>y(d[1]-d[2])).attr('y2',d=>y(d[1]+d[2]))
      .attr('stroke',s[2]).attr('stroke-width',1.4);
  });
  series.forEach(s=>{
    pg.selectAll(null).data(s[0]).enter().append('circle')
      .attr('cx',d=>x(toDate(d[0]))).attr('cy',d=>y(d[1])).attr('r',2.4).attr('fill',s[1]);
  });
  frameAxes(g, y, top, bot, [0,100,200,300], d3.format('d'), 'Cross shore (m)', true);
  svg.append('text').attr('x',78).attr('y',1046).attr('font-weight','bold').attr('font-size',13).text('(f)');
  svg.append('text').attr('x',(xL+xR)/2).attr('y',top-7).attr('text-anchor','middle').attr('font-size',15).attr('fill','#222')
    .text('Évolution de la position des barres sableuses et du trait de côte');
  const lg = svg.append('g');
  lg.append('rect').attr('x',903).attr('y',1040).attr('width',185).attr('height',175).attr('rx',3)
    .attr('fill','#fff').attr('fill-opacity',0.85).attr('stroke','#d0d0d0');
  const tx = 945, fs = 13;
  const items = [
    {y:1054, kind:'patch', c:COL.seche, t:['Sèche']},
    {y:1073, kind:'patch', c:COL.humide, t:['Humide']},
    {y:1092, kind:'dot', c:COL.blue, t:['Barre interne']},
    {y:1111.5, kind:'dot', c:COL.red, t:['Barre externe']},
    {y:1130.5, kind:'dot', c:COL.black, t:['Trait de côte']},
    {y:1159, kind:'patch', c:'#cfcfcf', t:['Données satellites',' indisponibles']},
    {y:1184, kind:'err', c:'#aaa', t:['Ecart-type']}
  ];
  items.forEach(it=>{
    if(it.kind==='patch') lg.append('rect').attr('x',908).attr('y',it.y-4.5).attr('width',25).attr('height',9).attr('fill',it.c);
    if(it.kind==='dot') lg.append('circle').attr('cx',920.5).attr('cy',it.y).attr('r',2.4).attr('fill',it.c);
    if(it.kind==='err'){
      lg.append('line').attr('x1',920.5).attr('x2',920.5).attr('y1',it.y-7).attr('y2',it.y+7).attr('stroke',it.c).attr('stroke-width',1);
      lg.append('circle').attr('cx',920.5).attr('cy',it.y).attr('r',1.6).attr('fill','#999');
    }
    if(it.t.length===1){
      lg.append('text').attr('x',tx).attr('y',it.y).attr('dy','0.36em').attr('font-size',fs).attr('fill','#222').text(it.t[0]);
    } else {
      const tt = lg.append('text').attr('font-size',12.5).attr('fill','#222').attr('xml:space','preserve');
      tt.append('tspan').attr('x',tx).attr('y',it.y-6.5).attr('dy','0.36em').text(it.t[0]);
      tt.append('tspan').attr('x',tx).attr('y',it.y+6.5).attr('dy','0.36em').text(it.t[1]);
    }
  });
})();
</script>
</body></html>
